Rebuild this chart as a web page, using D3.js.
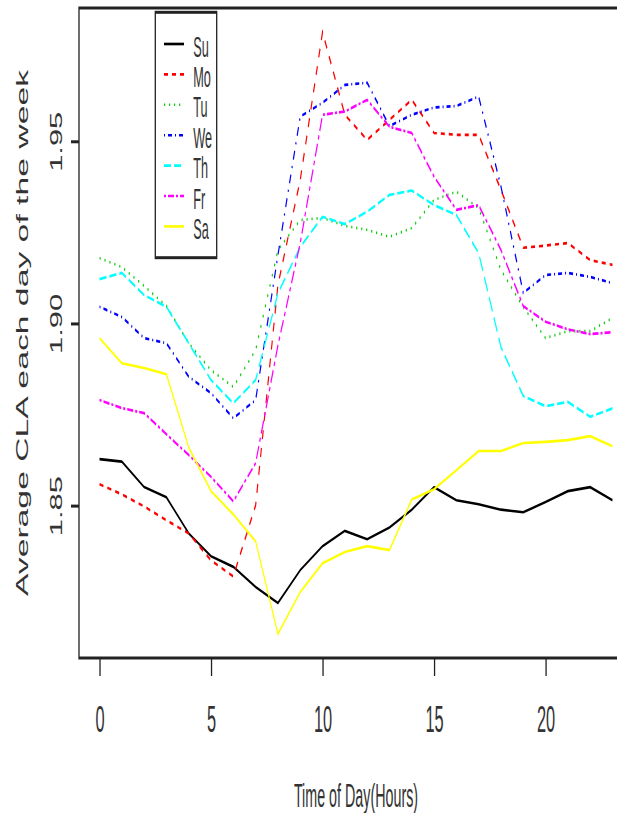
<!DOCTYPE html>
<html lang="en">
<head>
<meta charset="UTF-8">
<title>Average CLA each day of the week</title>
<script src="https://d3js.org/d3.v7.min.js"></script>
<style>
  body { margin: 0; background: #fff; }
  svg { display: block; font-family: "Liberation Sans", Arial, sans-serif; }
</style>
</head>
<body>
<div id="chart"></div>
<script>
// hours of the day
const hours = [0, 1, 2, 3, 4, 5, 6, 7, 8, 9, 10, 11, 12, 13, 14, 15, 16, 17, 18, 19, 20, 21, 22, 23];

// average CLA per hour, one list per weekday
const su = [1.8626, 1.8619, 1.8549, 1.8521, 1.8422, 1.8359, 1.8330, 1.8275, 1.8231, 1.8321, 1.8387, 1.8429,
            1.8406, 1.8438, 1.8487, 1.8549, 1.8513, 1.8502, 1.8487, 1.8480, 1.8508, 1.8538, 1.8549, 1.8513];
const mo = [1.8557, 1.8529, 1.8496, 1.8458, 1.8422, 1.8348, 1.8304, 1.8499, 1.9104, 1.9392, 1.9798, 1.9571,
            1.9502, 1.9557, 1.9612, 1.9521, 1.9516, 1.9516, 1.9365, 1.9206, 1.9212, 1.9219, 1.9172, 1.9159];
const tu = [1.9178, 1.9153, 1.9101, 1.9046, 1.8944, 1.8870, 1.8824, 1.8925, 1.9200, 1.9282, 1.9288, 1.9266,
            1.9255, 1.9236, 1.9260, 1.9337, 1.9360, 1.9315, 1.9145, 1.9043, 1.8958, 1.8977, 1.8977, 1.9013];
const we = [1.9044, 1.9016, 1.8958, 1.8944, 1.8852, 1.8807, 1.8738, 1.8788, 1.9186, 1.9566, 1.9604, 1.9653,
            1.9659, 1.9540, 1.9571, 1.9591, 1.9595, 1.9621, 1.9374, 1.9082, 1.9131, 1.9137, 1.9126, 1.9109];
const th = [1.9120, 1.9137, 1.9076, 1.9044, 1.8944, 1.8843, 1.8779, 1.8843, 1.9081, 1.9208, 1.9291, 1.9271,
            1.9305, 1.9351, 1.9363, 1.9323, 1.9296, 1.9191, 1.8933, 1.8799, 1.8771, 1.8783, 1.8742, 1.8765];
const fr = [1.8788, 1.8766, 1.8752, 1.8694, 1.8637, 1.8577, 1.8510, 1.8615, 1.8938, 1.9219, 1.9571, 1.9580,
            1.9612, 1.9538, 1.9521, 1.9401, 1.9310, 1.9323, 1.9200, 1.9046, 1.9003, 1.8982, 1.8969, 1.8974];
const sa = [1.8958, 1.8889, 1.8876, 1.8859, 1.8658, 1.8538, 1.8474, 1.8400, 1.8146, 1.8261, 1.8340, 1.8371,
            1.8387, 1.8376, 1.8515, 1.8543, 1.8595, 1.8648, 1.8648, 1.8670, 1.8673, 1.8678, 1.8689, 1.8661];

const dayNames = ['Su', 'Mo', 'Tu', 'We', 'Th', 'Fr', 'Sa'];
const xTicks = [0, 5, 10, 15, 20];
const yTicks = [1.85, 1.90, 1.95];

const series = [su, mo, tu, we, th, fr, sa];

// R base palette and lty 1..6
const dayColors = ['#000000', '#ff0000', '#11cc11', '#0000ff', '#00ffff', '#ff00ff', '#ffff00'];
const dayDashes = [null, '4,4', '1.2,3.8', '1,3,4,3', '7,3', '2,2,6,2', null];

const width = 617, height = 813;
const stretch = 2.3; // the whole picture is drawn tall, lines and letters too
const plotLeft = 79, plotRight = 633, plotTop = 8, plotBottom = 658; // plot box in screen px
const ink = '#222';
const textInk = '#333';
const lw = 1.15;

// R pads the data range by 4% on each side
function padded(ext) {
    const p = (ext[1] - ext[0]) * 0.04;
    return [ext[0] - p, ext[1] + p];
}

const svg = d3.select('#chart').append('svg')
    .attr('width', width)
    .attr('height', height);

// everything lives in a group squashed back by the stretch
const g = svg.append('g').attr('transform', `scale(1,${stretch})`);

const x = d3.scaleLinear()
    .domain(padded(d3.extent(hours)))
    .range([plotLeft, plotRight]);

const y = d3.scaleLinear()
    .domain(padded(d3.extent(series.flat())))
    .range([plotBottom / stretch, plotTop / stretch]);

const line = d3.line()
    .x((d, i) => x(hours[i]))
    .y(d => y(d));

// day lines
g.selectAll('.day-line')
    .data(series)
    .enter()
    .append('path')
    .attr('class', 'day-line')
    .attr('d', line)
    .attr('fill', 'none')
    .attr('stroke', (d, i) => dayColors[i])
    .attr('stroke-width', lw)
    .attr('stroke-dasharray', (d, i) => dayDashes[i]);

// plot box
g.append('rect')
    .attr('x', plotLeft)
    .attr('y', plotTop / stretch)
    .attr('width', plotRight - plotLeft)
    .attr('height', (plotBottom - plotTop) / stretch)
    .attr('fill', 'none')
    .attr('stroke', ink)
    .attr('stroke-width', 1.3);

// x axis
const xAxis = g.append('g')
    .attr('transform', `translate(0,${plotBottom / stretch})`)
    .call(d3.axisBottom(x).tickValues(xTicks).tickSize(18 / stretch).tickFormat(d3.format('d')));
xAxis.attr('font-family', null).attr('font-size', 16.4);
xAxis.select('.domain').remove();
xAxis.selectAll('line').attr('stroke', ink).attr('stroke-width', 1.3);
xAxis.selectAll('text')
    .attr('y', 73.7 / stretch)
    .attr('dy', null)
    .attr('fill', textInk);

// y axis, labels turned to read upwards
const yAxis = g.append('g')
    .attr('transform', `translate(${plotLeft},0)`)
    .call(d3.axisLeft(y).tickValues(yTicks).tickSize(8).tickFormat(d3.format('.2f')));
yAxis.attr('font-family', null).attr('font-size', 17);
yAxis.select('.domain').remove();
yAxis.selectAll('line').attr('stroke', ink).attr('stroke-width', 1.3);
yAxis.selectAll('text')
    .attr('x', 0)
    .attr('dy', null)
    .attr('text-anchor', 'middle')
    .attr('fill', textInk)
    .attr('transform', 'translate(-16.7,0) rotate(-90) scale(0.79,1)');

// axis titles
g.append('text')
    .attr('transform', `translate(28.3,${(plotTop + plotBottom) / 2 / stretch}) rotate(-90) scale(0.9,1)`)
    .attr('text-anchor', 'middle')
    .attr('font-size', 16.3)
    .attr('fill', textInk)
    .text('Average CLA each day of the week');

g.append('text')
    .attr('x', (plotLeft + plotRight) / 2)
    .attr('y', 806.7 / stretch)
    .attr('text-anchor', 'middle')
    .attr('font-size', 14.3)
    .attr('fill', textInk)
    .text('Time of Day(Hours)');

// legend
const legendLeft = 155.3, legendTop = 12.3, legendWidth = 61.4, legendHeight = 245.4;
const rowTop = 44, rowStep = 30.4;

g.append('rect')
    .attr('x', legendLeft)
    .attr('y', legendTop / stretch)
    .attr('width', legendWidth)
    .attr('height', legendHeight / stretch)
    .attr('fill', '#fff')
    .attr('stroke', ink)
    .attr('stroke-width', 1.3);

const legend = g.selectAll('.legend')
    .data(dayNames)
    .enter()
    .append('g')
    .attr('class', 'legend')
    .attr('transform', (d, i) => `translate(${legendLeft},${(rowTop + i * rowStep) / stretch})`);

legend.append('line')
    .attr('x1', 8.7)
    .attr('x2', 28.7)
    .attr('stroke', (d, i) => dayColors[i])
    .attr('stroke-width', lw)
    .attr('stroke-dasharray', (d, i) => dayDashes[i]);

legend.append('text')
    .attr('x', 38)
    .attr('y', 12.5 / stretch)
    .attr('font-size', 12.7)
    .attr('fill', textInk)
    .text(d => d);
</script>
</body>
</html>
